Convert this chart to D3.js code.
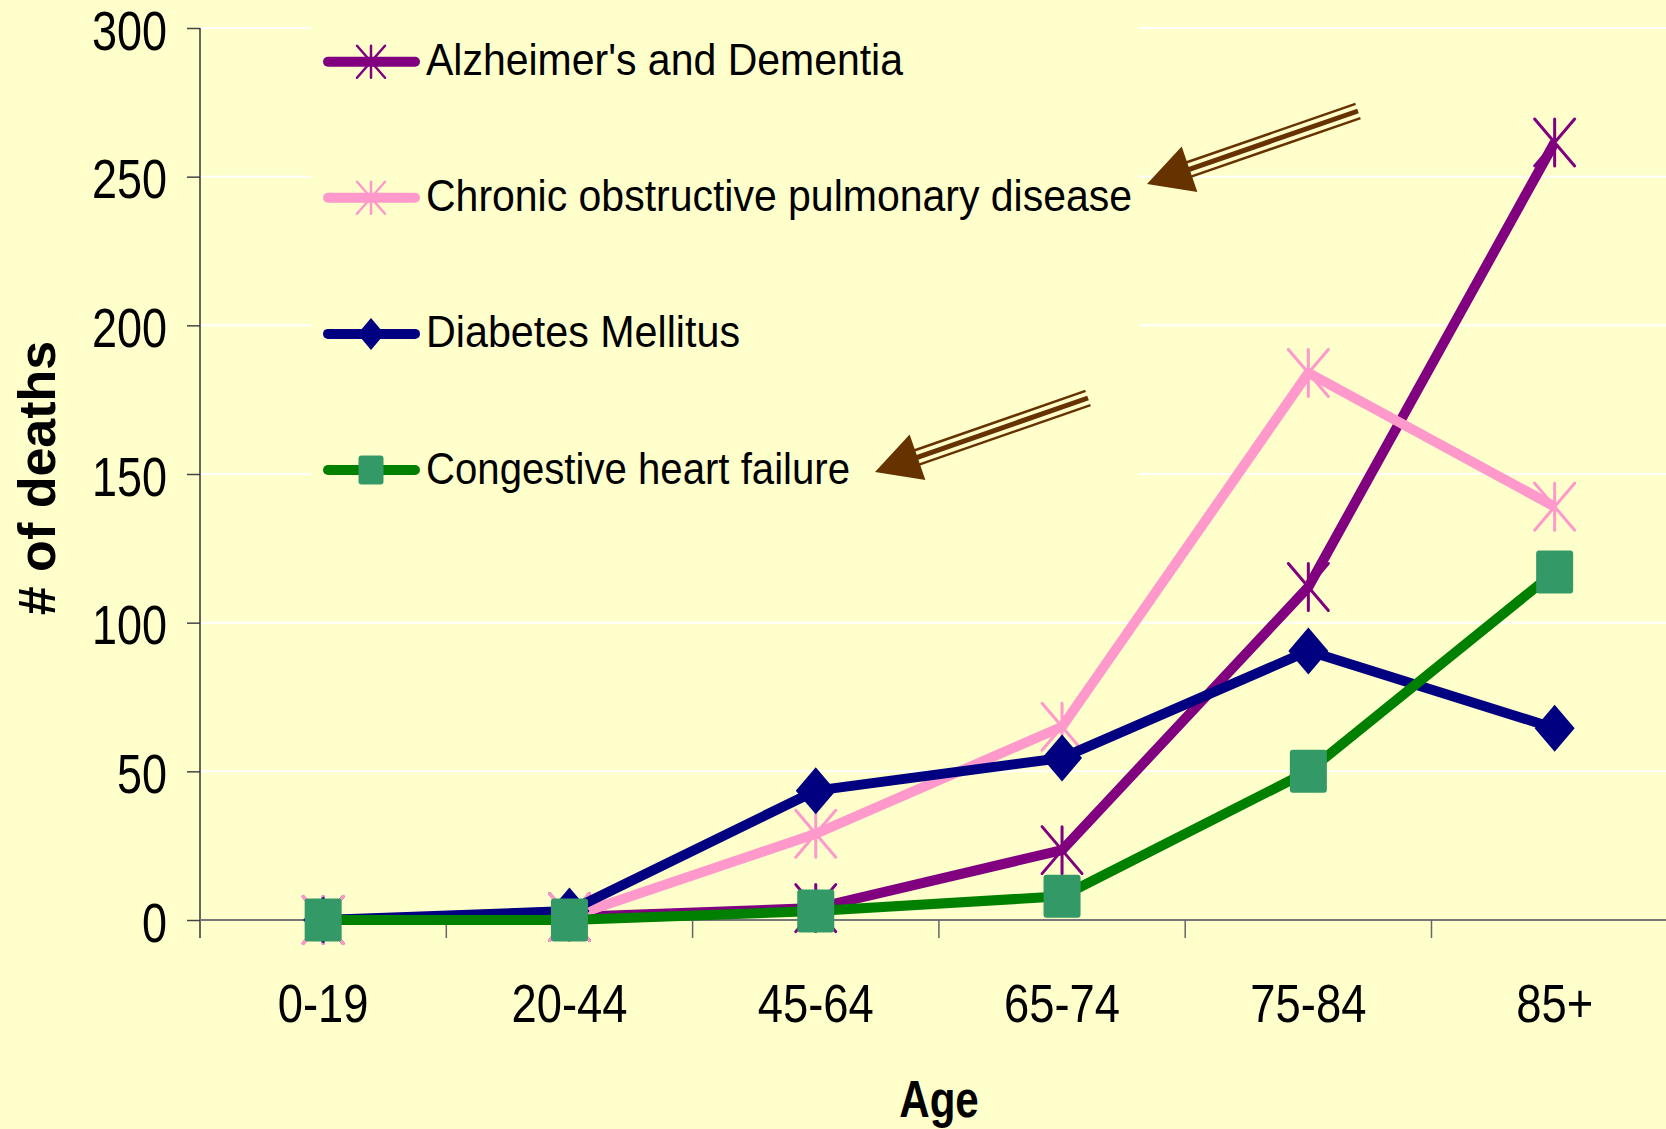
<!DOCTYPE html>
<html>
<head>
<meta charset="utf-8">
<script src="https://cdn.jsdelivr.net/npm/d3@7/dist/d3.min.js"></script>
<style>
  html, body { margin: 0; padding: 0; background: #FFFFCC; }
  svg { display: block; }
  text { font-family: "Liberation Sans", Arial, sans-serif; fill: #000; }
</style>
</head>
<body>
<svg id="chart" width="1666" height="1129"></svg>
<script>
// ---- data ----
const categories = ["0-19", "20-44", "45-64", "65-74", "75-84", "85+"];
const alzheimers = [0, 1, 4, 23.5, 112, 261.5];
const copd       = [0, 1, 29, 65, 184, 139];
const diabetes   = [0, 3, 43.5, 54.5, 90.5, 64.5];
const chf        = [0, 0, 3, 8, 50, 117];
const seriesNames = ["Alzheimer's and Dementia", "Chronic obstructive pulmonary disease", "Diabetes Mellitus", "Congestive heart failure"];
const yTicks = [0, 50, 100, 150, 200, 250, 300];
const yLabel = "# of deaths";
const xLabel = "Age";

// ---- styles ----
const seriesColors = ["#800080", "#FF99CC", "#000080", "#008000"];
const markerTypes = ["star", "star", "diamond", "square"];
const markerFills = ["#800080", "#FF99CC", "#000080", "#339966"];
const legendWidths = [477, 706, 314, 424];
const arrowColor = "#663300";
// arrows: tip and tail positions (annotation)
const arrows = [
  {tip: [1147, 184], tail: [1358, 111]},
  {tip: [875, 472], tail: [1088, 398]}
];

const svg = d3.select("#chart");
const W = 1666, H = 1129;
svg.append("rect").attr("width", W).attr("height", H).attr("fill", "#FFFFCC");

const plotLeft = 200, plotTop = 28, plotBottom = 920;
const step = 246.3;
const x = d3.scaleBand().domain(categories).range([plotLeft, plotLeft + step * categories.length]).padding(0);
const y = d3.scaleLinear().domain([0, 300]).range([plotBottom, plotTop]);

// gridlines
svg.append("g").selectAll("line").data(yTicks.filter(d => d > 0)).join("line")
  .attr("x1", plotLeft).attr("x2", W)
  .attr("y1", d => y(d)).attr("y2", d => y(d))
  .attr("stroke", "#ffffff").attr("stroke-width", 2);

// legend background box (covers gridlines)
svg.append("rect").attr("x", 311).attr("y", 12).attr("width", 828).attr("height", 478).attr("fill", "#FFFFCC");

// y axis
const yAxis = svg.append("g").attr("transform", `translate(${plotLeft},0)`)
  .call(d3.axisLeft(y).tickValues(yTicks).tickSize(13).tickSizeOuter(0));
yAxis.select(".domain").remove();
yAxis.selectAll(".tick line").attr("stroke", "#444").attr("stroke-width", 1.5);
yAxis.selectAll(".tick text")
  .attr("font-size", 55).attr("font-family", "Liberation Sans, Arial, sans-serif")
  .attr("fill", "#000")
  .attr("text-anchor", "end")
  .attr("x", -33 / 0.818).attr("dy", null).attr("y", 21)
  .attr("transform", "scale(0.818,1)");
svg.append("line").attr("x1", plotLeft).attr("x2", plotLeft).attr("y1", plotTop).attr("y2", plotBottom + 18)
  .attr("stroke", "#333").attr("stroke-width", 1.5);

// x axis
svg.append("line").attr("x1", plotLeft).attr("x2", W).attr("y1", plotBottom).attr("y2", plotBottom)
  .attr("stroke", "#777").attr("stroke-width", 2);
svg.append("g").selectAll("line").data(categories.slice(1)).join("line")
  .attr("x1", d => x(d)).attr("x2", d => x(d))
  .attr("y1", plotBottom).attr("y2", plotBottom + 18)
  .attr("stroke", "#666").attr("stroke-width", 1.5);
svg.append("g").selectAll("text").data(categories).join("text")
  .attr("transform", d => `translate(${x(d) + x.bandwidth() / 2},${plotBottom + 102}) scale(0.856,1)`)
  .attr("text-anchor", "middle").attr("font-size", 53)
  .text(d => d);

// axis titles
svg.append("text")
  .attr("transform", `translate(55,478) rotate(-90)`)
  .attr("text-anchor", "middle").attr("font-size", 52).attr("font-weight", "bold")
  .text(yLabel);
svg.append("text")
  .attr("transform", `translate(939,1117) scale(0.81,1)`)
  .attr("text-anchor", "middle").attr("font-size", 52).attr("font-weight", "bold")
  .text(xLabel);

// markers
function drawMarker(g, type, cx, cy, hw, hh, color, fill, sw) {
  if (type === "star") {
    g.append("path")
      .attr("d", `M${cx - hw},${cy - hh}L${cx + hw},${cy + hh}M${cx + hw},${cy - hh}L${cx - hw},${cy + hh}M${cx},${cy - hh}L${cx},${cy + hh}`)
      .attr("stroke", color).attr("stroke-width", sw).attr("fill", "none").attr("stroke-linecap", "round");
  } else if (type === "diamond") {
    g.append("path")
      .attr("d", `M${cx},${cy - hh}L${cx + hw},${cy}L${cx},${cy + hh}L${cx - hw},${cy}Z`)
      .attr("fill", fill);
  } else {
    g.append("rect").attr("x", cx - hw).attr("y", cy - hh).attr("width", hw * 2).attr("height", hh * 2)
      .attr("rx", 3).attr("fill", fill);
  }
}

// series
const allSeries = [alzheimers, copd, diabetes, chf];
const line = d3.line().x((d, i) => x(categories[i]) + x.bandwidth() / 2).y(d => y(d));
allSeries.forEach((vals, si) => {
  const g = svg.append("g");
  g.append("path").datum(vals).attr("d", line)
    .attr("fill", "none").attr("stroke", seriesColors[si]).attr("stroke-width", 10)
    .attr("stroke-linejoin", "round");
  const t = markerTypes[si];
  vals.forEach((v, i) => {
    const cx = x(categories[i]) + x.bandwidth() / 2, cy = y(v);
    if (t === "square") drawMarker(g, t, cx, cy, 18.5, 21.5, seriesColors[si], markerFills[si], 3);
    else drawMarker(g, t, cx, cy, 20, 23.5, seriesColors[si], markerFills[si], 3);
  });
});

// legend
const legendY0 = 61.7, legendStep = 136.1;
seriesNames.forEach((name, si) => {
  const cy = legendY0 + si * legendStep;
  const g = svg.append("g");
  g.append("line").attr("x1", 328).attr("x2", 415).attr("y1", cy).attr("y2", cy)
    .attr("stroke", seriesColors[si]).attr("stroke-width", 10).attr("stroke-linecap", "round");
  const t = markerTypes[si];
  if (t === "square") drawMarker(g, t, 371, cy, 12.5, 14.5, seriesColors[si], markerFills[si], 2.5);
  else if (t === "diamond") drawMarker(g, t, 371, cy, 13.5, 16, seriesColors[si], markerFills[si], 2.5);
  else drawMarker(g, t, 371, cy, 14, 16, seriesColors[si], markerFills[si], 2.5);
  g.append("text").attr("x", 426).attr("y", cy + 13.5).attr("font-size", 44)
    .attr("textLength", legendWidths[si]).attr("lengthAdjust", "spacingAndGlyphs")
    .text(name);
});

// arrows
arrows.forEach(a => {
  const [tx, ty] = a.tip, [ex, ey] = a.tail;
  const len = Math.hypot(ex - tx, ey - ty);
  const dx = (ex - tx) / len, dy = (ey - ty) / len;
  const nx = -dy, ny = dx;
  const headLen = 45, headHalf = 24;
  const bx = tx + dx * headLen, by = ty + dy * headLen;
  const g = svg.append("g");
  [[-7.5, 2.5], [0, 5], [7.5, 2.5]].forEach(([off, w]) => {
    g.append("line")
      .attr("x1", bx - dx * 4 + nx * off).attr("y1", by - dy * 4 + ny * off)
      .attr("x2", ex + nx * off).attr("y2", ey + ny * off)
      .attr("stroke", arrowColor).attr("stroke-width", w);
  });
  g.append("path")
    .attr("d", `M${tx},${ty}L${bx + nx * headHalf},${by + ny * headHalf}L${bx - nx * headHalf},${by - ny * headHalf}Z`)
    .attr("fill", arrowColor);
});
</script>
</body>
</html>
